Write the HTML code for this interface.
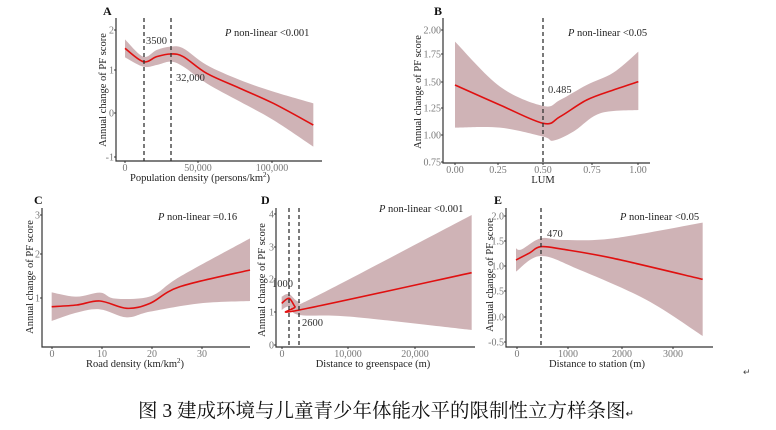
<!DOCTYPE html>
<html><head><meta charset="utf-8"><style>
html,body{margin:0;padding:0;background:#fff;width:776px;height:430px;overflow:hidden}
svg{display:block}
text{font-family:"Liberation Serif","Noto Serif CJK SC",serif}
.t{fill:#777;font-size:10px}
.l{fill:#222;font-size:10.5px}
.p{fill:#222;font-size:10.5px}
.h{fill:#111;font-size:12px;font-weight:bold}
</style></head><body>
<svg id="s" width="776" height="430" viewBox="0 0 776 430">
<g id="g"></g>
<text x="386" y="417" text-anchor="middle" style="font-size:19.5px;fill:#111">图 3  建成环境与儿童青少年体能水平的限制性立方样条图<tspan style="font-size:10px">↵</tspan></text>
<text x="743" y="375" style="font-size:9px;fill:#444">↵</text>
</svg>
<script>
const NS="http://www.w3.org/2000/svg",G=document.getElementById('g');
function el(t,a,txt){const e=document.createElementNS(NS,t);for(const k in a)e.setAttribute(k,a[k]);if(txt!=null)e.textContent=txt;G.appendChild(e);return e;}
function cr(p){let d="M"+p[0][0]+","+p[0][1];for(let i=0;i<p.length-1;i++){const p0=p[i-1]||p[i],p1=p[i],p2=p[i+1],p3=p[i+2]||p2;
d+=" C"+(p1[0]+(p2[0]-p0[0])/6)+","+(p1[1]+(p2[1]-p0[1])/6)+" "+(p2[0]-(p3[0]-p1[0])/6)+","+(p2[1]-(p3[1]-p1[1])/6)+" "+p2[0]+","+p2[1];}return d;}
function tr(pts,ox,oy){return pts.map(q=>[q[0]/3+ox,q[1]/3+oy]);}
function panel(o){
 const {ox,oy}=o;
 const up=tr(o.up,ox,oy),lo=tr(o.lo,ox,oy).reverse(),ln=tr(o.ln,ox,oy);
 el('path',{d:cr(up)+" L"+lo[0][0]+","+lo[0][1]+" "+cr(lo).replace(/^M[^ ]+/,'')+" Z",fill:'#cfb3b6',stroke:'none'});
 el('path',{d:cr(ln),fill:'none',stroke:'#e01010','stroke-width':1.6});
 (o.v||[]).forEach(x=>el('line',{x1:x,y1:o.top,x2:x,y2:o.bot,stroke:'#333','stroke-width':1.3,'stroke-dasharray':'4,3'}));
 el('path',{d:`M${o.ax},${o.top} V${o.bot} H${o.xend}`,fill:'none',stroke:'#333','stroke-width':1.2});
 o.yt.forEach(([v,y])=>{el('line',{x1:o.ax-2,y1:y,x2:o.ax,y2:y,stroke:'#333'});el('text',{x:o.ax-2,y:y+3.5,'text-anchor':'end',class:'t'},v);});
 o.xt.forEach(([v,x])=>{el('line',{x1:x,y1:o.bot,x2:x,y2:o.bot+2,stroke:'#333'});el('text',{x:x,y:o.bot+10,'text-anchor':'middle',class:'t'},v);});
 el('text',{x:o.lx,y:o.ly,class:'h'},o.L);
 const xl=el('text',{x:o.xlx,y:o.bot+20,'text-anchor':'middle',class:'l'},o.xl);
 if(o.sup){const ts=document.createElementNS(NS,'tspan');ts.setAttribute('dy','-4');ts.setAttribute('style','font-size:7px');ts.textContent='2';xl.appendChild(ts);const t2=document.createElementNS(NS,'tspan');t2.setAttribute('dy','4');t2.textContent=')';xl.appendChild(t2);}
 el('text',{x:0,y:0,transform:`translate(${o.ylx},${o.yly}) rotate(-90)`,'text-anchor':'middle',class:'l'},'Annual change of PF score');
 const pt=el('text',{x:o.px,y:o.py,class:'p'});
 const a=document.createElementNS(NS,'tspan');a.setAttribute('font-style','italic');a.textContent='P';pt.appendChild(a);
 const b=document.createElementNS(NS,'tspan');b.textContent=' non-linear '+o.pv;pt.appendChild(b);
 (o.ann||[]).forEach(([t,x,y])=>el('text',{x,y,class:'l',style:'fill:#333'},t));
}
panel({ox:90,oy:0,top:18,bot:161,ax:116,xend:322,L:'A',lx:103,ly:15,
 up:[[105,118],[160,170],[200,150],[242,140],[280,145],[350,195],[450,240],[550,275],[670,310]],
 lo:[[105,172],[160,200],[200,195],[242,185],[280,200],[350,250],[450,305],[550,360],[670,440]],
 ln:[[105,145],[160,185],[200,170],[242,162],[280,170],[350,220],[450,265],[550,310],[670,375]],
 v:[144,171],yt:[['2',30],['1',70],['0',113],['-1',157]],xt:[['0',125],['50,000',198],['100,000',272]],
 xl:'Population density (persons/km',sup:1,xlx:200,ylx:106,yly:90,px:225,py:36,pv:'<0.001',
 ann:[['3500',146,44],['32,000',176,81]]});
panel({ox:400,oy:0,top:18,bot:163,ax:443,xend:650,L:'B',lx:434,ly:15,
 up:[[165,125],[300,260],[430,318],[480,300],[560,255],[640,218],[715,155]],
 lo:[[165,383],[300,383],[430,410],[460,422],[520,395],[600,340],[715,330]],
 ln:[[165,255],[300,315],[430,370],[480,350],[560,300],[640,270],[715,245]],
 v:[543],yt:[['2.00',30],['1.75',54],['1.50',82],['1.25',108],['1.00',135],['0.75',162]],
 xt:[['0.00',455],['0.25',498],['0.50',543],['0.75',592],['1.00',638]],
 xl:'LUM',xlx:543,ylx:421,yly:92,px:568,py:36,pv:'<0.05',ann:[['0.485',548,93]]});
panel({ox:0,oy:190,top:208,bot:347,ax:42,xend:250,L:'C',lx:34,ly:204,
 up:[[155,307],[230,320],[300,308],[340,325],[420,325],[470,310],[540,260],[750,145]],
 lo:[[155,393],[230,368],[300,358],[380,382],[450,365],[600,340],[750,333]],
 ln:[[155,350],[230,345],[300,333],[380,355],[450,340],[540,290],[750,240]],
 yt:[['3',215],['2',254],['1',298]],xt:[['0',52],['10',102],['20',152],['30',202]],
 xl:'Road density (km/km',sup:1,xlx:135,ylx:33,yly:277,px:158,py:220,pv:'=0.16'});
panel({ox:250,oy:190,top:208,bot:347,ax:276,xend:475,L:'D',lx:261,ly:204,
 up:[[95,320],[117,312],[148,335],[200,318],[665,75]],
 lo:[[95,360],[117,350],[148,375],[300,380],[665,420]],
 ln:[[95,340],[117,325],[135,350],[148,360],[665,248]],
 v:[289,299],yt:[['4',214],['3',247],['2',279],['1',312],['0',345]],
 xt:[['0',282],['10,000',348],['20,000',415]],
 xl:'Distance to greenspace (m)',xlx:373,ylx:265,yly:280,px:379,py:212,pv:'<0.001',
 ann:[['1000',272,287],['2600',302,326]]});
panel({ox:480,oy:190,top:208,bot:347,ax:506,xend:713,L:'E',lx:494,ly:204,
 up:[[108,175],[125,178],[182,145],[250,150],[400,145],[668,98]],
 lo:[[108,245],[182,198],[300,240],[500,330],[668,438]],
 ln:[[108,210],[150,188],[182,170],[250,178],[400,205],[668,268]],
 v:[541],yt:[['2.0',216],['1.5',241],['1.0',266],['0.5',291],['0.0',317],['-0.5',342]],
 xt:[['0',517],['1000',568],['2000',622],['3000',673]],
 xl:'Distance to station (m)',xlx:597,ylx:493,yly:275,px:620,py:220,pv:'<0.05',ann:[['470',547,237]]});
</script>
</body></html>
